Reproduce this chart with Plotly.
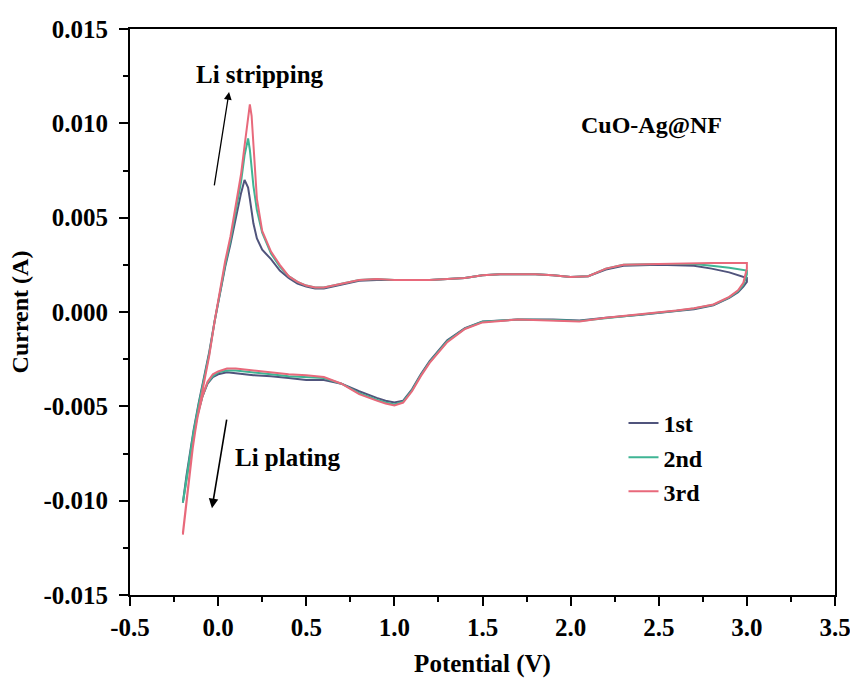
import plotly.graph_objects as go

# Sweep potentials (V)
anodic_v = [-0.20, -0.17, -0.14, -0.11, -0.08, -0.05, -0.02, 0.01, 0.04, 0.07, 0.10, 0.13,
            0.15, 0.17, 0.18, 0.19, 0.20, 0.22, 0.25, 0.30, 0.35, 0.40, 0.45, 0.50, 0.55,
            0.60, 0.70, 0.80, 0.90, 1.00, 1.20, 1.40, 1.50, 1.60, 1.80, 1.90, 2.00, 2.10,
            2.20, 2.30, 2.50, 2.70, 2.80, 2.90, 3.00]
cathodic_v = [3.00, 2.99, 2.98, 2.95, 2.90, 2.81, 2.70, 2.60, 2.40, 2.20, 2.05, 1.90, 1.70,
              1.50, 1.40, 1.30, 1.20, 1.15, 1.10, 1.05, 1.00, 0.95, 0.90, 0.80, 0.70, 0.60,
              0.50, 0.40, 0.30, 0.20, 0.10, 0.05, 0.00, -0.03, -0.06, -0.09, -0.12, -0.15,
              -0.18, -0.20]

# Currents (mA) for each cycle
cycle1_anodic = [-10.1, -8.2, -6.3, -4.8, -3.5, -2.1, -0.5, 1.0, 2.4, 3.6, 5.0, 6.3,
                 7.0, 6.6, 6.0, 5.3, 4.7, 3.9, 3.3, 2.8, 2.2, 1.8, 1.5, 1.35, 1.25,
                 1.25, 1.45, 1.65, 1.7, 1.7, 1.7, 1.8, 1.95, 2.0, 2.0, 1.95, 1.85, 1.9,
                 2.25, 2.45, 2.5, 2.45, 2.3, 2.1, 1.8]
cycle1_cathodic = [1.6, 1.45, 1.35, 1.05, 0.75, 0.35, 0.15, 0.05, -0.15, -0.3, -0.45, -0.4, -0.4,
                   -0.5, -0.85, -1.5, -2.6, -3.3, -4.1, -4.7, -4.8, -4.7, -4.55, -4.2, -3.8, -3.6,
                   -3.6, -3.5, -3.4, -3.35, -3.25, -3.2, -3.3, -3.45, -3.8, -4.5, -5.5, -6.9,
                   -8.7, -10.1]

cycle2_anodic = [-10.1, -8.2, -6.4, -4.9, -3.6, -2.2, -0.5, 1.1, 2.5, 3.8, 5.3, 6.9,
                 8.3, 9.2, 8.6, 7.6, 6.7, 5.4, 4.2, 3.1, 2.4, 1.9, 1.6, 1.4, 1.3,
                 1.3, 1.5, 1.7, 1.75, 1.7, 1.7, 1.8, 1.95, 2.0, 2.0, 1.95, 1.85, 1.9,
                 2.3, 2.5, 2.55, 2.55, 2.45, 2.35, 2.2]
cycle2_cathodic = [2.0, 1.7, 1.45, 1.1, 0.78, 0.38, 0.18, 0.07, -0.12, -0.3, -0.48, -0.42, -0.4,
                   -0.52, -0.88, -1.55, -2.65, -3.35, -4.15, -4.75, -4.9, -4.8, -4.65, -4.3, -3.8, -3.5,
                   -3.45, -3.4, -3.3, -3.2, -3.1, -3.1, -3.2, -3.4, -3.75, -4.5, -5.6, -7.2,
                   -8.9, -10.1]

cycle3_anodic = [-11.8, -9.3, -6.9, -5.2, -3.8, -2.3, -0.5, 1.2, 2.7, 4.0, 5.6, 7.3,
                 8.8, 10.3, 11.0, 10.4, 8.8, 6.0, 4.3, 3.2, 2.5, 1.9, 1.6, 1.4, 1.3,
                 1.3, 1.5, 1.7, 1.75, 1.7, 1.7, 1.8, 1.95, 2.0, 2.0, 1.95, 1.85, 1.9,
                 2.3, 2.5, 2.55, 2.6, 2.6, 2.6, 2.6]
cycle3_cathodic = [2.3, 1.9, 1.55, 1.15, 0.8, 0.4, 0.2, 0.08, -0.1, -0.3, -0.5, -0.45, -0.4,
                   -0.55, -0.9, -1.6, -2.7, -3.4, -4.2, -4.8, -4.95, -4.85, -4.7, -4.35, -3.8, -3.45,
                   -3.35, -3.3, -3.2, -3.1, -3.0, -3.0, -3.15, -3.3, -3.7, -4.5, -5.7, -7.6,
                   -9.9, -11.7]

cycle_names = ["1st", "2nd", "3rd"]
cycle_colors = ["#50547c", "#3fb594", "#e8697b"]

y_ticks = [-0.015, -0.010, -0.005, 0.000, 0.005, 0.010, 0.015]
y_tick_text = ["-0.015", "-0.010", "-0.005", "0.000", "0.005", "0.010", "0.015"]
x_ticks = [-0.5, 0.0, 0.5, 1.0, 1.5, 2.0, 2.5, 3.0, 3.5]
x_tick_text = ["-0.5", "0.0", "0.5", "1.0", "1.5", "2.0", "2.5", "3.0", "3.5"]

FONT = "Liberation Serif"

fig = go.Figure()
cycles = [(cycle1_anodic, cycle1_cathodic), (cycle2_anodic, cycle2_cathodic),
          (cycle3_anodic, cycle3_cathodic)]
for name, color, (an, ca) in zip(cycle_names, cycle_colors, cycles):
    xs = anodic_v + cathodic_v
    ys = [v / 1000.0 for v in an + ca]
    fig.add_trace(go.Scatter(
        x=xs, y=ys, mode="lines", name="<b>%s</b>" % name,
        line=dict(color=color, width=2),
    ))

# Sweep direction arrows
fig.add_annotation(x=0.062, y=0.01166, ax=-0.023, ay=0.00663, xref="x", yref="y",
                   axref="x", ayref="y", text="", showarrow=True, arrowhead=2,
                   arrowsize=1.2, arrowwidth=1.3, arrowcolor="black")
fig.add_annotation(x=-0.035, y=-0.0104, ax=0.050, ay=-0.00562, xref="x", yref="y",
                   axref="x", ayref="y", text="", showarrow=True, arrowhead=2,
                   arrowsize=1.2, arrowwidth=1.6, arrowcolor="black")

fig.add_annotation(x=0.238, y=0.0126, text="<b>Li stripping</b>", showarrow=False,
                   font=dict(family=FONT, size=25, color="black"))
fig.add_annotation(x=0.396, y=-0.0077, text="<b>Li plating</b>", showarrow=False,
                   font=dict(family=FONT, size=25, color="black"))
fig.add_annotation(x=2.456, y=0.0099, text="<b>CuO-Ag@NF</b>", showarrow=False,
                   font=dict(family=FONT, size=24, color="black"))

axis_common = dict(
    showline=True, linecolor="black", linewidth=2, mirror=True,
    ticks="outside", ticklen=9, tickwidth=2, tickcolor="black",
    showgrid=False, zeroline=False,
    tickfont=dict(family=FONT, size=25, color="black"),
    ticklabeloverflow="allow", automargin=False,
)

fig.update_layout(
    width=850, height=684,
    margin=dict(l=130, r=15, t=29, b=89),
    paper_bgcolor="white", plot_bgcolor="white",
    font=dict(family=FONT, color="black"),
    showlegend=True,
    legend=dict(x=0.70, y=0.343, xanchor="left", yanchor="top",
                bgcolor="rgba(0,0,0,0)", tracegroupgap=0,
                font=dict(family=FONT, size=24, color="black")),
    xaxis=dict(range=[-0.5, 3.5], tickvals=x_ticks, ticktext=["<b>%s</b>" % t for t in x_tick_text],
               minor=dict(ticks="outside", ticklen=5, tickwidth=2, tickcolor="black", dtick=0.25,
                          tick0=-0.5),
               ticklabelstandoff=0,
               title=dict(text="<b>Potential (V)</b>", font=dict(family=FONT, size=25), standoff=14),
               **axis_common),
    yaxis=dict(range=[-0.015, 0.015], tickvals=y_ticks, ticktext=["<b>%s</b>" % t for t in y_tick_text],
               minor=dict(ticks="outside", ticklen=5, tickwidth=2, tickcolor="black", dtick=0.0025,
                          tick0=-0.015),
               ticklabelstandoff=6,
               title=dict(text="<b>Current (A)</b>", font=dict(family=FONT, size=24), standoff=8),
               **axis_common),
)

fig.write_html("out.html")
